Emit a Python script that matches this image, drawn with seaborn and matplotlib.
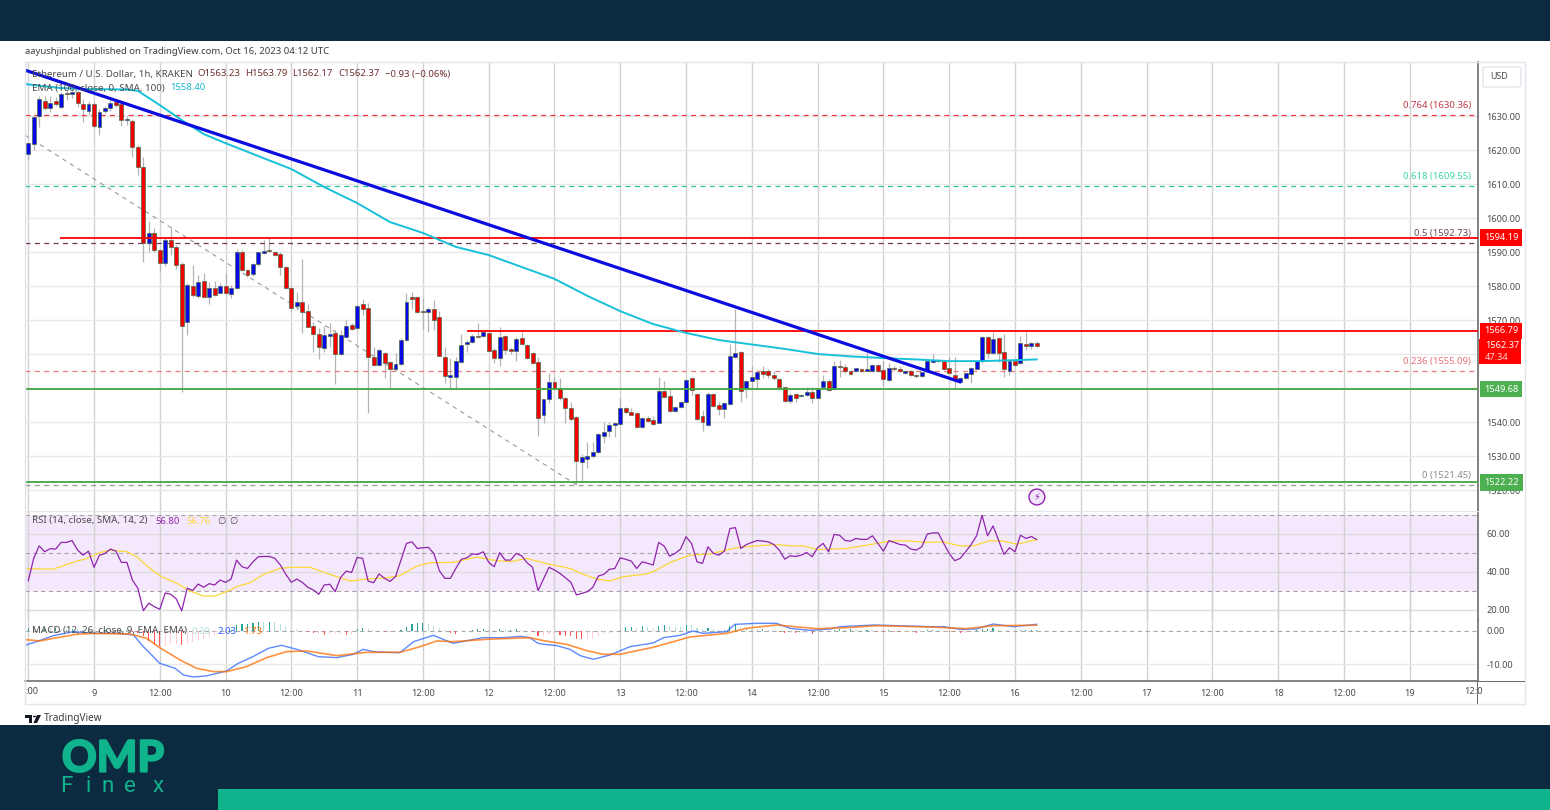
import numpy as np
import pandas as pd
import matplotlib
matplotlib.use("Agg")
import matplotlib.pyplot as plt
import matplotlib.patheffects as pe
from matplotlib.patches import Rectangle, FancyBboxPatch, Polygon, Circle
import seaborn as sns

W, H = 1550, 810

# hourly candles, first one is Oct 8 12:00, hours counted from Oct 9 00:00
first_hour = -12
open_px = [1618.8,1621.9,1630.1,1634.5,1632.3,1634.4,1632.7,1636.7,1636.4,1637,
    1633.5,1631.5,1633.5,1626.9,1631.6,1632.3,1634.1,1633.4,1628.8,1628.5,
    1621,1615.1,1592.6,1595.7,1590.6,1586.9,1593.5,1591.4,1586.5,1569.3,
    1580.1,1577.2,1581.5,1576.9,1579.3,1578,1580,1577.6,1579.5,1590.1,
    1584.7,1583.5,1586.4,1589.8,1590.6,1590,1589.4,1585.7,1579.5,1574,
    1575.2,1572.6,1568.3,1565.9,1561.9,1565.2,1566.1,1560,1565.1,1568.5,
    1567.6,1574.7,1573.6,1559.2,1556.9,1560.2,1557.6,1555.7,1557,1564,
    1576.8,1576.8,1572.7,1572.3,1573.3,1570.9,1559.2,1553.2,1553.2,1557.6,
    1562.9,1563.5,1565.4,1565.3,1566.1,1561.2,1558.7,1565.4,1561.4,1561,
    1564.6,1562.6,1560.2,1557.6,1542.2,1546.7,1551.7,1550,1547,1544.1,
    1541.5,1528.1,1529.1,1529.9,1531.1,1536,1537.5,1539,1539.5,1544.1,
    1542.8,1542.5,1538.5,1541.2,1540.7,1539.6,1549.2,1547.6,1543.1,1544.4,
    1546,1552.9,1548.1,1541.8,1539.2,1548.3,1544.9,1543.7,1545.3,1559.1,
    1560.5,1550,1552.2,1552.6,1555.1,1554.9,1553.9,1552.6,1550.2,1546.2,
    1548.1,1547.7,1548,1548.9,1547.2,1550.2,1552.2,1549.6,1556.6,1556.3,
    1555.1,1554.9,1555.5,1555.1,1555.1,1556.8,1555.3,1552.4,1555.8,1555.5,
    1554.5,1555,1553.9,1553.5,1554.9,1557.7,1558.3,1557.8,1555.9,1553.9,
    1551.9,1552.9,1554.1,1555.6,1558,1565.1,1560.4,1564.7,1560.5,1554.9,
    1558,1557.3,1562.9,1562.4,1563.23]
high_px = [1622.5,1630.5,1636,1636,1636,1635.6,1637,1637.6,1638.2,1637.6,
    1635,1634.5,1634,1632,1633,1635.5,1635,1634,1630,1629,
    1621.5,1618,1599,1597,1591,1594.5,1597.5,1592,1587.1,1581,
    1586.2,1583.2,1583.8,1581.3,1581.6,1581,1583.8,1580.3,1590.9,1590.5,
    1585,1586.7,1590,1593.5,1594,1590.2,1590,1586,1580,1578.2,
    1587.9,1574.7,1569.3,1567.7,1568.3,1569,1567.1,1567.1,1570,1569,
    1574.4,1576.1,1575.1,1562.2,1561.7,1560.5,1558,1560.2,1564.7,1578,
    1578.3,1577,1576.5,1573.7,1575.9,1572.7,1562.2,1558.9,1559.2,1565.9,
    1564.1,1566,1569,1567,1566.6,1561.8,1567.8,1565.6,1561.8,1565,
    1566.6,1562.8,1560.5,1559,1546.7,1554.3,1553.1,1552.9,1547.3,1546,
    1541.8,1530.6,1534.2,1534.2,1536.7,1540,1540,1540,1547,1544.3,
    1544.1,1542.8,1541.5,1541.8,1541.8,1553.3,1552.1,1550,1544.8,1546.1,
    1552.6,1553.2,1548.4,1543.4,1548.7,1548.6,1546,1545.9,1562.9,1573.2,
    1561,1552.4,1556.5,1555.3,1556.6,1555.6,1555,1553,1550.2,1548.4,
    1548.5,1548.3,1550.2,1550.2,1550.1,1553.9,1552.6,1558,1558.3,1557.1,
    1555.3,1556,1555.8,1560.6,1557,1557,1557.8,1557.3,1556.5,1556.5,
    1555.2,1555.3,1554.2,1554.8,1558,1560,1558.6,1558,1559.2,1559,
    1553.2,1554.5,1556.2,1558.3,1565.3,1565.3,1566.6,1564.9,1566,1558.3,
    1558.3,1565.3,1566.6,1563.6,1563.79]
low_px = [1617.5,1620,1626.9,1631.7,1631.2,1632.9,1632.4,1634.7,1635.3,1632.6,
    1628.3,1630.3,1626.5,1624.4,1630.8,1631.5,1632.7,1627,1627.5,1618,
    1612.7,1587,1590,1590,1584.2,1586,1589,1585,1548.9,1565.6,
    1576.9,1576.5,1576.5,1574.7,1577.1,1577.9,1577.6,1576.5,1579,1584.5,
    1582.7,1582.8,1586,1589.5,1590,1588.8,1583.2,1579,1572.6,1572.9,
    1566.2,1567.8,1560.7,1558.5,1560.7,1562.2,1551.2,1559.7,1564.7,1567.1,
    1567.4,1571.5,1542.6,1556.6,1556.4,1552.9,1549.9,1555.3,1556.8,1563.8,
    1573.2,1572.1,1567.4,1566.6,1567.1,1559.4,1551.4,1549.9,1549.4,1557.3,
    1560.7,1563.2,1564.9,1565,1561,1557.5,1556.5,1560,1560,1558,
    1562.6,1558.6,1557.2,1536,1539.6,1545.7,1549.6,1546.6,1539.6,1540.3,
    1521.8,1522.5,1526.5,1529.5,1531,1533.7,1535.7,1535.7,1539.2,1542.5,
    1542,1538.2,1538.2,1540,1539,1539.6,1547.3,1543,1542.8,1544.1,
    1545.7,1548,1540.6,1537.5,1538.9,1544.5,1542,1541.1,1545,1558.8,
    1545.8,1547,1550,1550,1552.9,1553,1552.4,1549.9,1545.9,1545.7,
    1546,1547.4,1547.7,1545.7,1546.9,1549.9,1549.2,1549.4,1553.2,1554.3,
    1553.9,1554.6,1554.8,1554.9,1554.9,1554.8,1550.6,1552.1,1555,1554.6,
    1554.2,1553.6,1553,1553.2,1554.7,1557.4,1557.6,1555.4,1554.1,1550,
    1551.6,1552.6,1551.4,1555.5,1557.3,1558.7,1560.1,1557.7,1553.2,1553.9,
    1556.4,1557,1561.2,1561.4,1562.17]
close_px = [1622,1629.8,1635,1632.3,1633.7,1633.5,1636.4,1636.4,1637.1,1633.7,
    1632,1633.5,1627.1,1631.3,1632.3,1633.7,1633.2,1628.8,1629,1620.8,
    1615.1,1592.6,1595.7,1590.6,1586.9,1593.5,1591.4,1586.2,1568.3,1580.3,
    1577.4,1581.3,1576.9,1579.3,1577.4,1580.1,1577.9,1579.5,1589.9,1584.7,
    1583.2,1586.4,1589.9,1590.3,1590.2,1589.2,1585.7,1579.5,1573.4,1575.2,
    1572.4,1568,1565.9,1562,1565.6,1565.9,1560,1565.6,1568.2,1567.4,
    1574.1,1573.2,1559.1,1556.9,1561.3,1557.3,1555.5,1557,1564.1,1575.2,
    1576.2,1572.4,1572.3,1573.3,1570.1,1559.5,1553.6,1553.7,1558,1562.6,
    1563.6,1565.3,1565.1,1566.6,1561,1558.7,1565.1,1561.2,1561,1564.4,
    1562.8,1558.9,1557.5,1541.1,1546.7,1551.9,1550,1547,1544.1,1540.9,
    1528.5,1529.7,1529.9,1531.3,1536.4,1537.2,1539,1539.6,1544.1,1542.8,
    1542.2,1538.5,1541.2,1540.4,1539.4,1549.1,1547.5,1543.1,1544.4,1545.8,
    1552.3,1549.4,1540.9,1540,1548.3,1544.6,1543.7,1545.6,1559.4,1560.2,
    1549.1,1552.1,1553.2,1554.6,1554.1,1553.8,1552.8,1550.2,1546.2,1548,
    1547.2,1548,1548.8,1547.2,1549.8,1552.2,1549.4,1556.5,1556.2,1554.9,
    1554.1,1555.8,1555.1,1555.5,1556.8,1555.1,1552.6,1555.8,1555.5,1554.9,
    1554.9,1553.9,1553.5,1554.6,1557.8,1558.3,1557.8,1555.6,1554.4,1552.4,
    1552.9,1554.3,1555.8,1558,1565.1,1560.4,1564.4,1560.4,1555.7,1558,
    1556.7,1563.3,1562.4,1563.3,1562.37]

# 100 EMA
ema_hours = [-12.6,-6,0,6,8,12,16,20,24,30,36,42,48,54,60,66,72,78,84,90,96,102,108,114,120,126,132,138,144,150,156,162,168,172]
ema_vals = [1639.4,1638.2,1637.9,1637.8,1637.4,1633.2,1628.8,1624.7,1622,1618.2,1614.4,1609.1,1604.4,1598.8,1595.6,1591.5,1589.1,1585.6,1582.1,1577.1,1572.6,1568.8,1566.2,1564.1,1562.8,1561.5,1560,1559.3,1558.8,1558.4,1557.9,1557.9,1558.2,1558.4]

# RSI per candle
rsi_vals = [35,46.9,53.5,50.4,52,51.8,55.3,55.3,56.3,51.3,48.6,50.7,42.2,48.6,49.5,51.8,50.7,44.8,44.8,35.5,
    31.2,19.4,23.3,21.5,20.1,28.7,28,25.6,19.3,31.2,30,33.4,31.7,33.6,32.9,35.5,34.3,36,46,42.5,
    41.6,45.1,47.8,47.9,47.9,46.9,43.4,38.5,34.3,36,34.3,31.7,30.3,28,32.9,33.3,29.4,36.9,40.2,39.5,
    47.4,46.9,35,34.1,38.7,36.4,34.8,37.3,46,54.8,55.6,52.1,52.5,52.7,49.5,40.4,36.4,36.4,41.6,46.4,
    47.2,49.2,49,50.4,44.8,42.5,49.9,46,46,49.5,48.3,44.6,42.2,29.9,36,42.2,40.8,39,36.7,34.3,
    27.7,28.5,29.4,31.7,37.6,38.5,41.1,41.6,47.2,46.4,45.5,41.6,45.1,44.3,43.4,55.3,53.4,48.1,49.5,51.8,
    58.3,54.8,45.1,44.3,53,49.5,48.6,50.7,62.6,63.1,52.1,54.2,55.3,56.3,56,55.6,54.2,51.3,46.5,48.3,
    47.9,48.6,50,47.8,52.5,54.8,50.4,59.5,59.1,56.3,56,57.4,56.9,56.9,58.8,54.8,50.7,56.2,55.3,54.2,
    53.9,51.8,51.3,53,59.7,60.3,60.3,54.8,49.5,45.7,46.9,50.4,54.2,58.8,69.6,58.8,64,56.5,49,52.5,
    50.4,59.1,57.4,58.4,56.8]

# RSI moving average
rsi_ma_hours = [-12.4,-9.9,-7.4,-5.6,-3.5,-1.3,1.1,2.9,6,7.8,10.2,12.3,15.1,17.5,20,22.1,24.5,26,28.5,30.9,33.9,35.8,39.4,43,46.7,49.7,53.4,55.8,58.9,61.3,65.5,69.8,72.8,75.9,78.9,83.2,86.8,89.3,91.7,94.1,96.6,100.8,102.6,105.1,108.7,112.4,115.4,117.2,120.9,124.5,127,129.4,131.8,137.3,141.6,145.2,148.2,151.9,154.9,158,160.4,163.4,165.9,168.3,172]
rsi_ma_vals = [41.6,41.3,41.3,43,45.1,46.9,49.9,51.3,50.4,47.8,41.6,37.3,33.8,29.8,27.1,27.1,29.8,32,34.1,38.5,41.6,42.2,42.2,38.5,35,36,36.7,37.8,42.9,44.6,44.8,47.6,46,45.1,46.9,43.7,41.6,38.5,36,35,37.3,38.7,40.8,44.8,48.6,49.2,51.3,52.5,53.5,54.2,53.5,53.5,51.6,52.1,54.2,56,56.2,55.3,55.6,53.5,53.5,56.2,56,54.4,56.76]

# MACD
macd_hours = [-12.4,-10.5,-7.4,-3.8,-0.1,4.1,7.2,9,12,14.8,16.3,18.1,20.5,24.2,26.3,29,31.8,34.2,37,40.9,44.3,47.3,49.1,51,53.4,55.8,58.3,61.9,65.5,71,74.7,77.7,79.5,81,82,84.4,86.8,88.7,91.1,94.1,97.8,102.0,103.9,106.9,109.3,111.1,115.4,116.9,120.9,124.5,127,130.6,134.3,136.1,142.2,146.5,152.5,155,158,161,164,167.7,172]
macd_vals = [-4.2,-3.2,-1.4,-0.2,-0.7,-0.7,-1.2,-4.7,-9.7,-11.2,-13.2,-13.8,-13.5,-12,-9.7,-7.7,-5.2,-4.3,-5.5,-7.7,-8,-7,-5.5,-6.2,-6.4,-6.5,-3.2,-1.3,-3.7,-2,-2,-1.6,-2,-3.7,-4,-4.4,-5.5,-7.4,-8.5,-7.2,-4.7,-3.6,-2,-1.3,0,-0.7,-0.2,2,2.3,2.3,0.8,0.2,0.6,1.3,1.8,1.6,1.3,1.3,0.5,0.6,2.1,1.3,2.03]
signal_hours = [-12.4,-9.9,-7.4,-3.2,-0.1,6.6,9.6,12,15.7,18.7,21.8,24.2,27.8,31.5,35.1,38.8,44.3,49.7,55.8,59.5,62.5,65.5,71.6,79.5,82,86.2,89.9,92.9,95.9,102,108.7,115.4,119,124.5,131.8,137.3,142.8,152.5,159.2,164,172]
signal_vals = [-2.6,-3,-2.2,-1,-0.7,-0.9,-2.2,-5,-8.7,-11.2,-12.2,-12.2,-10.7,-8,-6.2,-6,-7.4,-6.4,-6.4,-4.7,-3,-3.2,-2.5,-2,-2.9,-4,-5.9,-7,-7,-4.9,-1.8,-0.7,0.8,1.8,0.7,1,1.6,1.2,0.7,1.6,1.73]
hist_vals = [1,1,1,1,0.8,0.8,0.7,0.6,0.6,0.5,0.4,0.4,0.2,0.2,0.2,0.2,0.3,0.2,0.2,-0.2,
    -0.5,-1.5,-3,-4.2,-4.5,-4.5,-4,-3.8,-4.2,-3.7,-3.3,-2.7,-2.4,-2,-1.5,-1,-0.5,0.4,1.7,2,
    2.2,2.4,2.8,2.7,2.8,2.7,2,1.5,1,0.6,0.3,-0.2,-0.6,-0.6,-1.3,-1,-1,-1,-1.2,-0.8,
    0.6,1,0.6,0.3,0.1,-0.3,-0.2,-0.1,0.3,1.3,2,2.3,2.3,2.1,1.6,1,0.3,-0.5,-0.8,-0.3,
    0.1,0.4,0.6,0.7,0.3,0.2,0.5,0.2,0.3,0.5,0.4,0.1,-0.3,-1.5,-1.5,-0.9,-0.1,-1.3,-1.4,-1.6,
    -2.3,-2.5,-2.5,-2.3,-1.4,-1,-0.5,-0.1,0.3,1.3,1.3,0.9,1.4,1.2,1,1.6,1.8,1.5,1.3,1.2,
    1.9,1.7,1,0.6,0.8,0.5,0.4,0.4,1.6,2,1.2,0.8,0.7,0.5,0.5,0.4,-0.1,-0.3,-0.6,-0.6,
    -0.7,-0.7,-0.6,-0.8,-0.3,-0.1,0.1,0.3,0.5,0.3,0.5,0.4,0.2,0.3,0.2,-0.2,-0.3,0.2,-0.3,-0.4,
    -0.4,-0.4,-0.5,-0.3,0.3,0.3,0.2,0.1,-0.2,-0.4,-0.6,-0.5,-0.3,0.2,0.6,0.6,1,0.4,-0.1,0.1,
    0.1,0.2,0.2,0.3,0.3]

# drawn levels
resist_upper = 1594.19
resist_lower = 1566.79
support_upper = 1549.68
support_lower = 1522.22
fib_levels = [1630.36, 1609.55, 1592.73, 1555.09, 1521.45]
fib_labels = ["0.764 (1630.36)", "0.618 (1609.55)", "0.5 (1592.73)", "0.236 (1555.09)", "0 (1521.45)"]
fib_colors = ["#f23645", "#26c9a0", "#6d3a56", "#ef7a82", "#9a9a9a"]
fib_text_colors = ["#c2364b", "#3ad6a5", "#6d4a5a", "#e8707a", "#8a8a8a"]
trend_hours = [-12.6, 158]
trend_vals = [1643.5, 1551.8]
fib_link_hours = [-12.6, 88.1]
fib_link_vals = [1624.4, 1521.45]
day_labels = ["9", "12:00", "10", "12:00", "11", "12:00", "12", "12:00", "13", "12:00", "14", "12:00",
              "15", "12:00", "16", "12:00", "17", "12:00", "18", "12:00", "19"]

sns.set_style("white")
plt.rcParams["font.family"] = ["Noto Sans", "DejaVu Sans"]
GRID_H = "#e8e8e8"
GRID_V = "#d2d2d2"
TXT = "#4a4a4a"
NAVY = "#0d2b40"
TEAL = "#10b48c"
UP = "#0808e8"
DOWN = "#f40000"
FS = 6.85


def px_axes(x0, y0, x1, y1):
    return fig.add_axes([x0 / W, 1 - y1 / H, (x1 - x0) / W, (y1 - y0) / H])


def px_rect(x0, y0, x1, y1, **kw):
    fig.add_artist(Rectangle((x0 / W, 1 - y1 / H), (x1 - x0) / W, (y1 - y0) / H,
                             transform=fig.transFigure, **kw))


def px_text(x, y, s, **kw):
    kw.setdefault("va", "center")
    kw.setdefault("fontsize", FS)
    kw.setdefault("color", TXT)
    return fig.text(x / W, 1 - y / H, s, **kw)


fig = plt.figure(figsize=(W / 100, H / 100), dpi=100, facecolor="white")

# page bands
px_rect(0, 0, W, 41, color=NAVY, lw=0)
px_rect(0, 725, W, H, color=NAVY, lw=0)
px_rect(218, 789, W, H, color=TEAL, lw=0)
px_rect(25, 62, 1525, 704, fill=False, edgecolor="#e2e5ec", lw=1)

ax_price = px_axes(25, 62, 1478, 511)
ax_rsi = px_axes(25, 511, 1478, 620)
ax_macd = px_axes(25, 620, 1478, 681)

xlim = ((25 - 94) / 5.482, (1478 - 94) / 5.482)
grid_hours = list(range(-12, 241, 12))
for ax in (ax_price, ax_rsi, ax_macd):
    ax.set_facecolor("none")
    ax.set_xlim(*xlim)
    ax.yaxis.tick_right()
    ax.vlines(grid_hours, 0, 1, transform=ax.get_xaxis_transform(), color=GRID_V, lw=1.0, zorder=0)
    for s in ax.spines.values():
        s.set_visible(False)
    ax.spines["right"].set_visible(True)
    ax.spines["right"].set_color("#6e6e6e")
    ax.spines["right"].set_linewidth(1.2)
    ax.tick_params(axis="y", length=0, labelsize=6.6, labelcolor=TXT, pad=6)
    ax.set_xticks([])

# price pane
ax_price.set_ylim(1630 - (511 - 116) / 3.4, 1630 + (116 - 62) / 3.4)
price_ticks = np.arange(1520, 1631, 10)
ax_price.set_yticks(price_ticks)
# 1550 and 1560 sit behind the price tags in the reference
ax_price.set_yticklabels(["" if t in (1550, 1560) else f"{t:.2f}" for t in price_ticks])
ax_price.hlines(price_ticks, 0, 1, transform=ax_price.get_yaxis_transform(), color=GRID_H, lw=1.0, zorder=0)

hours = first_hour + np.arange(len(open_px))
candles = pd.DataFrame({"hour": hours, "o": open_px, "h": high_px, "l": low_px, "c": close_px})
candles["body"] = (candles["c"] - candles["o"]).abs().clip(lower=0.3)
candles["base"] = candles[["o", "c"]].min(axis=1)
candle_colors = np.where(candles["c"] >= candles["o"], UP, DOWN)
ax_price.vlines(candles["hour"], candles["l"], candles["h"], color="#b4b4b4", lw=0.9, zorder=2)
ax_price.bar(candles["hour"], candles["body"], bottom=candles["base"], width=0.72,
             color=candle_colors, edgecolor="#4d6b4d", linewidth=0.5, zorder=3)

for lev, col in zip(fib_levels, fib_colors):
    ax_price.axhline(lev, color=col, lw=0.9, ls=(0, (4, 3.5)), zorder=2.5)
for lev, lab, col in zip(fib_levels, fib_labels, fib_text_colors):
    ax_price.annotate(lab, (1, lev), xycoords=ax_price.get_yaxis_transform(), xytext=(-5, 3.5),
                      textcoords="offset points", ha="right", va="bottom", fontsize=FS, color=col)

sns.lineplot(x=fib_link_hours, y=fib_link_vals, ax=ax_price, color="#9a9a9a", lw=0.8,
             ls=(0, (4, 4)), estimator=None, sort=False, zorder=2.2)
ax_price.hlines(resist_upper, -6.2, xlim[1], color="#ff0000", lw=1.3, zorder=4)
ax_price.hlines(resist_lower, 68, xlim[1], color="#ff0000", lw=1.3, zorder=4)
ax_price.axhline(support_upper, color="#3fa83f", lw=1.3, zorder=4)
ax_price.axhline(support_lower, color="#3fa83f", lw=1.3, zorder=4)
sns.lineplot(x=ema_hours, y=ema_vals, ax=ax_price, color="#17c0d8", lw=1.4, estimator=None, sort=False, zorder=5)
sns.lineplot(x=trend_hours, y=trend_vals, ax=ax_price, color="#0b0be0", lw=2.3, estimator=None, sort=False, zorder=6)
ax_price.set_xlim(*xlim)

for lev, txt, col in [(resist_upper, "1594.19", "#ff0000"), (resist_lower, "1566.79", "#ff0000"),
                      (support_upper, "1549.68", "#4caf50"), (support_lower, "1522.22", "#4caf50")]:
    ax_price.annotate(txt, (1, lev), xycoords=ax_price.get_yaxis_transform(), xytext=(4.5, 0),
                      textcoords="offset points", ha="left", va="center", fontsize=6.6, color="white",
                      fontweight="bold", annotation_clip=False, zorder=10,
                      bbox=dict(boxstyle="square,pad=0.42", fc=col, ec="none"))
px_rect(1479, 339, 1521, 364, color="#ff0000", lw=0, zorder=8)
px_text(1485, 346, "1562.37", color="white", fontweight="bold", fontsize=6.6, zorder=9)
px_text(1485, 357, "47:34", color="#ffd5d5", fontsize=6.6, zorder=9)

# rsi pane
ax_rsi.set_ylim(60 - (620 - 533.5) / 1.9, 60 + (533.5 - 511) / 1.9)
ax_rsi.axhspan(30, 70, color="#f4e8fc", lw=0, zorder=0.5)
ax_rsi.set_yticks([20, 40, 60])
ax_rsi.set_yticklabels(["20.00", "40.00", "60.00"])
ax_rsi.hlines([20, 40, 60], 0, 1, transform=ax_rsi.get_yaxis_transform(), color="#dedade", lw=1.0, zorder=0.7)
ax_rsi.hlines([30, 50, 70], 0, 1, transform=ax_rsi.get_yaxis_transform(), color="#a8a4a8", lw=0.8,
              ls=(0, (4, 3)), zorder=1)
ax_rsi.vlines(grid_hours, 0, 1, transform=ax_rsi.get_xaxis_transform(), color=GRID_V, lw=1.0, zorder=0.8)
sns.lineplot(x=rsi_ma_hours, y=rsi_ma_vals, ax=ax_rsi, color="#fdd835", lw=0.9, estimator=None, sort=False, zorder=3)
sns.lineplot(x=hours, y=rsi_vals, ax=ax_rsi, color="#8e24aa", lw=0.9, estimator=None, sort=False, zorder=4)
ax_rsi.set_xlim(*xlim)
ax_rsi.spines["top"].set_visible(True)
ax_rsi.spines["top"].set_color("#e2e5ec")

# macd pane
ax_macd.set_ylim(-(681 - 631) / 3.33, (631 - 620) / 3.33)
ax_macd.set_yticks([-10, 0])
ax_macd.set_yticklabels(["-10.00", "0.00"])
ax_macd.hlines(-10, 0, 1, transform=ax_macd.get_yaxis_transform(), color=GRID_H, lw=1.0, zorder=0)
ax_macd.axhline(0, color="#a8a8a8", lw=0.8, ls=(0, (4, 3)), zorder=1)
hist = np.array(hist_vals)
prev = np.r_[hist[0], hist[:-1]]
hist_colors = np.where(hist >= 0, np.where(hist >= prev, "#26a69a", "#b2dfdb"),
                       np.where(hist < prev, "#ff5252", "#ffcdd2"))
ax_macd.bar(hours, hist, width=0.2, color=hist_colors, lw=0, zorder=2)
sns.lineplot(x=macd_hours, y=macd_vals, ax=ax_macd, color="#2962ff", lw=1, alpha=0.75, estimator=None, sort=False, zorder=3)
sns.lineplot(x=signal_hours, y=signal_vals, ax=ax_macd, color="#ff6d00", lw=1.2, alpha=0.75, estimator=None, sort=False, zorder=4)
ax_macd.set_xlim(*xlim)
ax_macd.spines["bottom"].set_visible(True)
ax_macd.spines["bottom"].set_color("#6e6e6e")
ax_macd.spines["bottom"].set_linewidth(1.2)
px_rect(1478, 681, 1525, 681.8, color="#6e6e6e", lw=0)
px_rect(1477.4, 681, 1478.4, 704, color="#6e6e6e", lw=0)
ax_macd.set_xticks(list(range(0, 241, 12)))
ax_macd.set_xticklabels(day_labels)
ax_macd.tick_params(axis="x", length=0, labelsize=6.6, labelcolor=TXT, pad=6)
px_text(25.5, 692, ":00", fontsize=6.6)
px_text(1464, 692, "12:0", fontsize=6.6)

# headers and legends
px_text(25, 52, "aayushjindal published on TradingView.com, Oct 16, 2023 04:12 UTC", color="#3c3c3c", fontsize=6.85)
px_text(32, 74, "Ethereum / U.S. Dollar, 1h, KRAKEN", fontsize=7, zorder=12)
for x, s in [(197, "O1563.23"), (245, "H1563.79"), (292, "L1562.17"), (338, "C1562.37"), (385, "\u22120.93 (\u22120.06%)")]:
    px_text(x, 74, s, color="#6d2f2f", zorder=12)
px_text(32, 88, "EMA (100, close, 0, SMA, 100)", fontsize=7, zorder=12)
px_text(170, 88, "1558.40", color="#17b9d0", zorder=12)
px_text(32, 521, "RSI (14, close, SMA, 14, 2)", fontsize=7, zorder=12)
px_text(155, 521, "56.80", color="#8e24aa", zorder=12)
px_text(186, 521, "56.76", color="#fdd835", zorder=12)
px_text(217, 521, "\u2205", zorder=12)
px_text(229, 521, "\u2205", zorder=12)
px_text(32, 631, "MACD (12, 26, close, 9, EMA, EMA)", fontsize=7, zorder=12)
px_text(191, 631, "0.30", color="#b2dfdb", zorder=12)
px_text(217, 631, "2.03", color="#2962ff", zorder=12)
px_text(243, 631, "1.73", color="#ff6d00", zorder=12)

# usd button
fig.add_artist(FancyBboxPatch((1483 / W, 1 - 87 / H), 38 / W, 20 / H, transform=fig.transFigure,
                              boxstyle="round,pad=0,rounding_size=0.002", fc="white", ec="#e2e5ec", lw=1))
px_text(1490, 76.5, "USD", fontsize=6.4)

# lightning badge
ax_price.annotate("\u26a1", xy=(172.0, 1630 - (497 - 116) / 3.4), ha="center", va="center", fontsize=7,
                  color="#8e24aa", family="DejaVu Sans", annotation_clip=False, zorder=11,
                  bbox=dict(boxstyle="circle,pad=0.3", fc="#f3e5fc", ec="#8e24aa", lw=1))

# tv footer mark
px_rect(25, 715, 32, 718, color="#131722", lw=0)
px_rect(29, 715, 32, 723, color="#131722", lw=0)
fig.add_artist(Circle((34.5 / W, 1 - 716.5 / H), 0.001, transform=fig.transFigure, color="#131722", lw=0))
fig.add_artist(Polygon([(37 / W, 1 - 715 / H), (41 / W, 1 - 715 / H), (37 / W, 1 - 723 / H), (33.5 / W, 1 - 723 / H)],
                       transform=fig.transFigure, color="#131722", lw=0))
px_text(44, 719, "TradingView", fontsize=7.2, color="#3c3c3c")

# brand
px_text(113, 758.5, "OMP", color=TEAL, fontsize=31, fontweight="bold", family="Lato", ha="center",
        path_effects=[pe.withStroke(linewidth=1.6, foreground=TEAL)])
for x, ch in zip([66, 88, 108, 130, 158], "Finex"):
    px_text(x, 787, ch, color=TEAL, fontsize=16, family="Roboto", fontweight="normal", ha="center")

fig.savefig("out.png", dpi=100)
